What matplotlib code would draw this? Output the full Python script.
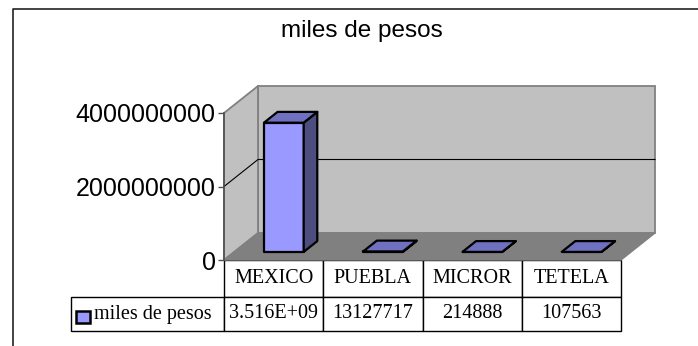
import matplotlib.pyplot as plt
from matplotlib.patches import Polygon, Rectangle
from matplotlib.lines import Line2D

categories = ['MEXICO', 'PUEBLA', 'MICROR', 'TETELA']
values = [3516000000, 13127717, 214888, 107563]
series_name = 'miles de pesos'
y_ticks = [0, 2000000000, 4000000000]
y_tick_labels = ['0', '2000000000', '4000000000']

W, H = 698, 346
fig = plt.figure(figsize=(W / 100, H / 100), dpi=100)

# plot area (front plane) in pixels: x 224..621, y 113..260
ax = fig.add_axes([224 / W, (H - 260) / H, 397 / W, 147 / H])
ax.set_xlim(-0.5, 3.5)
ax.set_ylim(0, 4e9)

# 3d depth offset in data units
dx = 34 / 397 * 4
dy = 27 / 147 * 4e9
x0, x1 = -0.5, 3.5
top = 4e9

wall_kw = dict(closed=True, clip_on=False, lw=1.3, ec='#808080')
ax.add_patch(Polygon([(x0 + dx, dy), (x1 + dx, dy), (x1 + dx, top + dy), (x0 + dx, top + dy)],
                     fc='#c0c0c0', zorder=1, **wall_kw))
ax.add_patch(Polygon([(x0, 0), (x0 + dx, dy), (x0 + dx, top + dy), (x0, top)],
                     fc='#c0c0c0', zorder=1, **wall_kw))
ax.add_patch(Polygon([(x0, 0), (x1, 0), (x1 + dx, dy), (x0 + dx, dy)],
                     fc='#808080', ec='#808080', closed=True, clip_on=False, lw=1, zorder=2))

# gridline
for t in y_ticks[1:-1]:
    ax.plot([x0, x0 + dx, x1 + dx], [t, t + dy, t + dy], color='black', lw=0.8,
            clip_on=False, zorder=3)

# bars
f0, f1 = 0.3, 0.7
bw = 0.4
for i, v in enumerate(values):
    bx = i - bw / 2 + f0 * dx
    by = f0 * dy
    ddx = (f1 - f0) * dx
    ddy = (f1 - f0) * dy
    kw = dict(closed=True, clip_on=False, ec='black', lw=1.6, joinstyle='round', zorder=5)
    ax.add_patch(Polygon([(bx, by), (bx + bw, by), (bx + bw, by + v), (bx, by + v)],
                         fc='#9999ff', **kw))
    ax.add_patch(Polygon([(bx + bw, by), (bx + bw + ddx, by + ddy), (bx + bw + ddx, by + v + ddy),
                          (bx + bw, by + v)], fc='#4d4d80', **kw))
    ax.add_patch(Polygon([(bx, by + v), (bx + bw, by + v), (bx + bw + ddx, by + v + ddy),
                          (bx + ddx, by + v + ddy)], fc='#7070c0', **kw))

# axis
for s in ['top', 'right', 'bottom']:
    ax.spines[s].set_visible(False)
ax.spines['left'].set_color('#505050')
ax.spines['left'].set_linewidth(1.2)
ax.spines['left'].set_zorder(4)
ax.set_xticks([])
ax.set_yticks(y_ticks)
ax.set_yticklabels(y_tick_labels, fontsize=18, family='Liberation Sans')
ax.tick_params(axis='y', length=4, width=1, color='#505050', pad=2)
ax.patch.set_visible(False)

# data table, sizes given in axes units so the bbox scaling is 1
cell_text = [[f'{v:.3E}' if v >= 1e9 else str(v) for v in values]]
tbl = ax.table(cellText=cell_text, rowLabels=[series_name], colLabels=categories,
               cellLoc='center', rowLoc='left',
               bbox=[0, -71 / 147, 1, 71 / 147])
tbl.auto_set_font_size(False)
for (r, c), cell in tbl.get_celld().items():
    cell.set_edgecolor('black')
    cell.set_linewidth(1)
    cell.get_text().set_fontfamily('Liberation Serif')
    cell.get_text().set_fontsize(14.5)
    cell.set_height((37 if r == 0 else 34) / 147)
    cell.set_width((152 if c == -1 else 99.25) / 397)
    if c == -1:
        cell.PAD = 23 / 152

key = Rectangle((-148 / 397, -63 / 147), 14 / 397, 12 / 147, transform=ax.transAxes,
                fc='#9999ff', ec='black', lw=1.8, clip_on=False, zorder=10)
ax.add_patch(key)

# title and chart border
fig.text(362 / W, 1 - 31 / H, 'miles de pesos', ha='center', va='center',
         fontsize=17.5, family='Liberation Sans')
fig.add_artist(Line2D([13 / W, 13 / W, 1], [0, 1 - 9 / H, 1 - 9 / H], color='#222222', lw=1.2))

fig.savefig('out.png', dpi=100)
